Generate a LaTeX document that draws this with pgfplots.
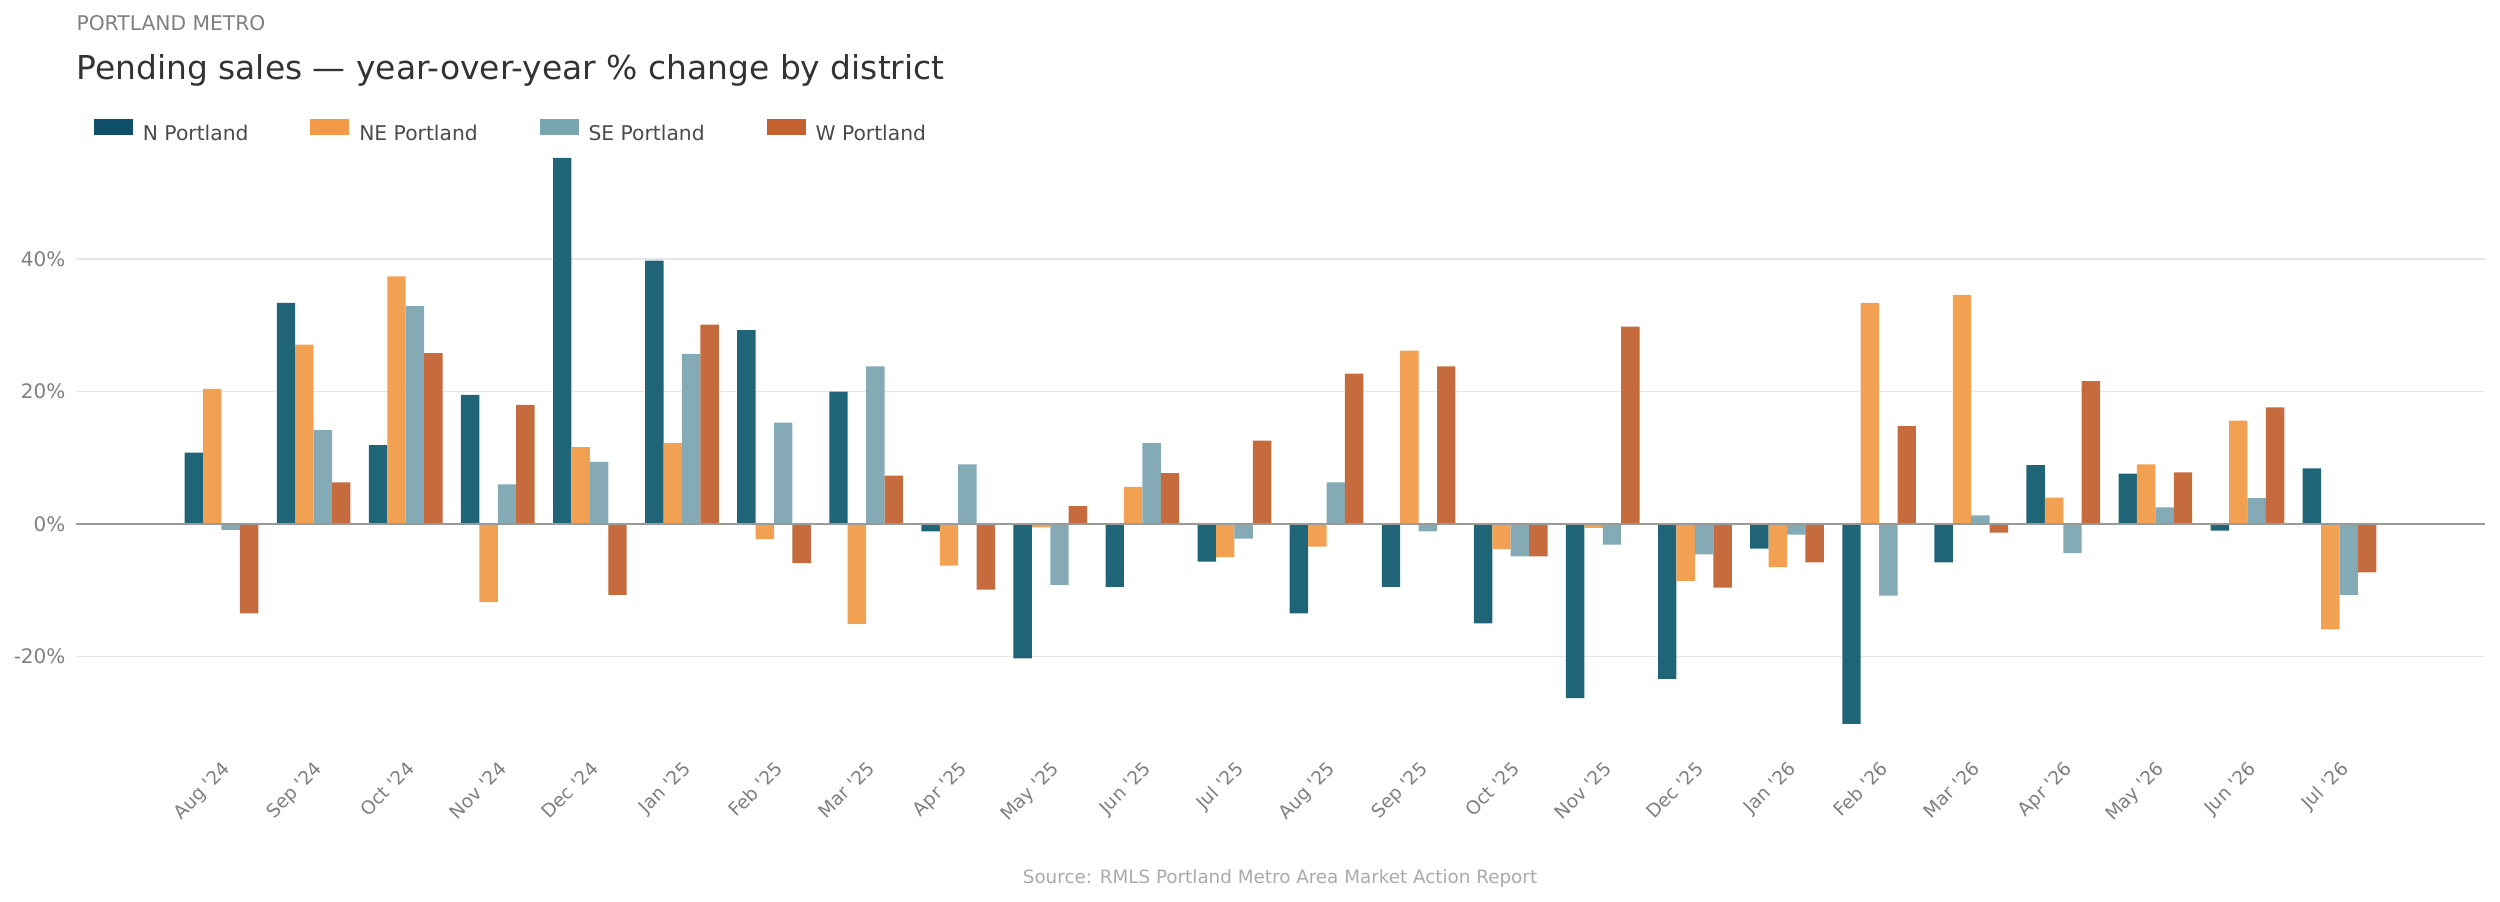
\documentclass[border=0pt]{standalone}
\usepackage{pgfplots}
\pgfplotsset{compat=1.18}
\usepackage{pgfplotstable}
\usepackage{fontspec}
\setmainfont{DejaVu Sans}

\definecolor{nbar}{HTML}{1F6577}
\definecolor{nebar}{HTML}{F2A152}
\definecolor{sebar}{HTML}{84AAB5}
\definecolor{wbar}{HTML}{C66B3D}
\definecolor{nleg}{HTML}{0F5068}
\definecolor{neleg}{HTML}{F39A48}
\definecolor{seleg}{HTML}{79A5B0}
\definecolor{wleg}{HTML}{C2602E}
\definecolor{gridc}{HTML}{E6E6E6}
\definecolor{zeroc}{HTML}{9A9A9A}
\definecolor{tickc}{HTML}{7F7F7F}
\definecolor{legtext}{HTML}{4A4A4A}
\definecolor{titlec}{HTML}{333333}
\definecolor{subc}{HTML}{808080}
\definecolor{srcc}{HTML}{AAAAAA}

\newcommand\q{\textquotesingle}

\pgfplotstableread{
x N NE SE W
0 10.8 20.4 -0.9 -13.5
1 33.4 27.1 14.2 6.3
2 11.9 37.4 32.9 25.8
3 19.5 -11.8 6.0 18.0
4 55.3 11.6 9.4 -10.7
5 39.8 12.2 25.7 30.1
6 29.3 -2.3 15.3 -5.9
7 20.0 -15.1 23.8 7.3
8 -1.1 -6.3 9.0 -9.9
9 -20.3 -0.5 -9.2 2.7
10 -9.5 5.6 12.2 7.7
11 -5.7 -5.0 -2.2 12.6
12 -13.5 -3.4 6.3 22.7
13 -9.5 26.2 -1.1 23.8
14 -15.0 -3.8 -4.9 -4.9
15 -26.3 -0.6 -3.1 29.8
16 -23.4 -8.6 -4.6 -9.6
17 -3.7 -6.5 -1.6 -5.8
18 -30.2 33.4 -10.8 14.8
19 -5.8 34.6 1.3 -1.3
20 8.9 4.0 -4.4 21.6
21 7.6 9.0 2.5 7.8
22 -1.0 15.6 3.9 17.6
23 8.4 -15.9 -10.7 -7.3
}\data

\begin{document}
\begin{tikzpicture}
\path[use as bounding box] (0,0) rectangle (900bp,-324.72bp);
\begin{axis}[
  at={(27.36bp,-270.86bp)}, anchor=south west,
  width=867.24bp, height=224.5bp, scale only axis,
  xmin=-1.58, xmax=24.58, ymin=-34.5, ymax=59.7,
  axis line style={draw=none},
  major tick length=0pt,
  xtick={0,...,23},
  xticklabels={Aug \q 24,Sep \q 24,Oct \q 24,Nov \q 24,Dec \q 24,Jan \q 25,Feb \q 25,Mar \q 25,Apr \q 25,May \q 25,Jun \q 25,Jul \q 25,Aug \q 25,Sep \q 25,Oct \q 25,Nov \q 25,Dec \q 25,Jan \q 26,Feb \q 26,Mar \q 26,Apr \q 26,May \q 26,Jun \q 26,Jul \q 26},
  ytick={-20,0,20,40},
  yticklabels={-20\%,0\%,20\%,40\%},
  ymajorgrids,
  grid style={color=gridc, line width=0.6bp},
  tick label style={text=tickc},
  yticklabel style={font=\fontsize{7.2bp}{8bp}\selectfont, inner sep=0pt, xshift=-3.6bp},
  xticklabel style={font=\fontsize{6.7bp}{8bp}\selectfont, rotate=45, anchor=north east, inner sep=0pt},
  xticklabel shift=2.5bp,
  legend columns=4,
  legend style={at={(axis description cs:0.00747,0.995)}, anchor=west,
    draw=none, fill=none, inner sep=0pt, outer sep=0pt,
    font=\fontsize{7.3bp}{9bp}\selectfont, text=legtext,
    nodes={inner sep=0pt},
    /tikz/every odd column/.append style={column sep=3.6bp},
    /tikz/every even column/.append style={column sep=22.3bp}},
  legend cell align=left,
]
\addplot[ybar, bar width=0.2, bar shift=-0.3, fill=nbar, draw=none,
  legend image code/.code={\fill[nleg] (0bp,-0.3bp) rectangle (14bp,5.46bp);}]
  table[x=x, y=N] {\data};
\addlegendentry{N Portland}
\addplot[ybar, bar width=0.2, bar shift=-0.1, fill=nebar, draw=none,
  legend image code/.code={\fill[neleg] (0bp,-0.3bp) rectangle (14bp,5.46bp);}]
  table[x=x, y=NE] {\data};
\addlegendentry{NE Portland}
\addplot[ybar, bar width=0.2, bar shift=0.1, fill=sebar, draw=none,
  legend image code/.code={\fill[seleg] (0bp,-0.3bp) rectangle (14bp,5.46bp);}]
  table[x=x, y=SE] {\data};
\addlegendentry{SE Portland}
\addplot[ybar, bar width=0.2, bar shift=0.3, fill=wbar, draw=none,
  legend image code/.code={\fill[wleg] (0bp,-0.3bp) rectangle (14bp,5.46bp);}]
  table[x=x, y=W] {\data};
\addlegendentry{W Portland}
\addplot[color=zeroc, line width=0.6bp, forget plot] coordinates {(-1.58,0) (24.58,0)};
\end{axis}
\node[anchor=base west, text=subc, font=\fontsize{7.3bp}{9bp}\selectfont, inner sep=0pt] at (27.36bp,-11.05bp) {PORTLAND METRO};
\node[anchor=base west, text=titlec, font=\fontsize{11.85bp}{14bp}\selectfont, inner sep=0pt] at (27.36bp,-28.8bp) {Pending sales — year-over-year \% change by district};
\node[anchor=base, text=srcc, font=\fontsize{6.6bp}{8bp}\selectfont, inner sep=0pt] at (460.8bp,-317.9bp) {Source: RMLS Portland Metro Area Market Action Report};
\end{tikzpicture}
\end{document}
